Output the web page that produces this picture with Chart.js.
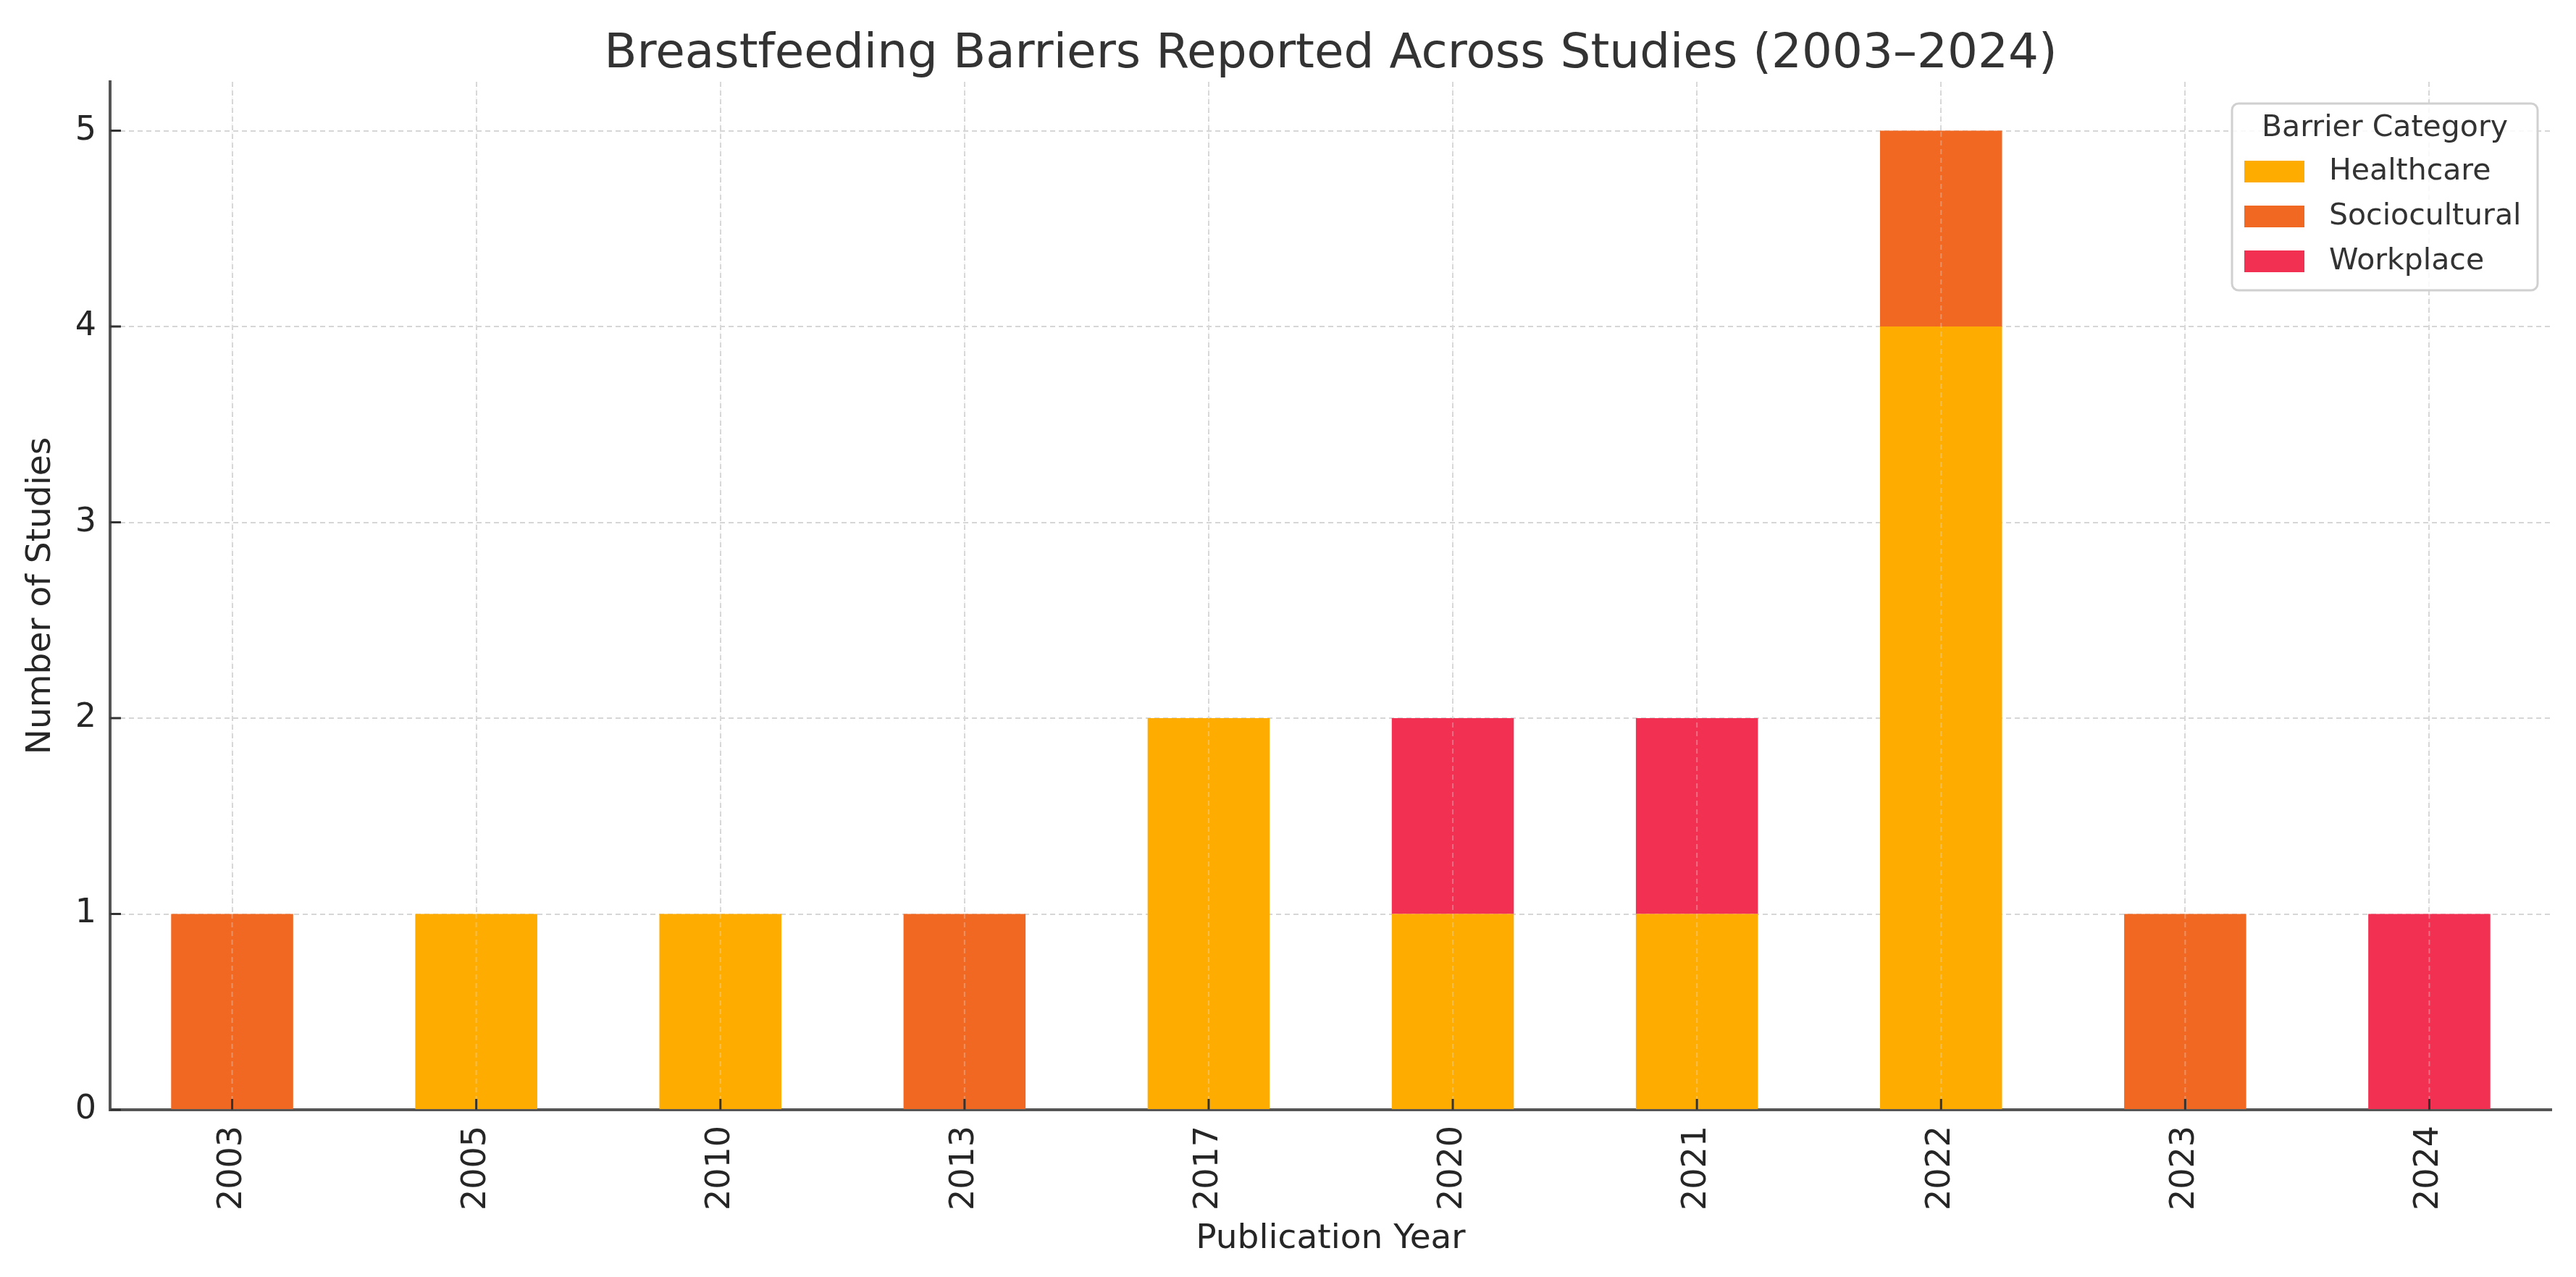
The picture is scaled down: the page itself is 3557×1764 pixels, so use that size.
<!DOCTYPE html>
<html>
<head>
<meta charset="utf-8">
<title>Breastfeeding Barriers Reported Across Studies</title>
<script src="https://cdn.jsdelivr.net/npm/chart.js@4.4.1/dist/chart.umd.min.js"></script>
<style>
  html, body { margin: 0; padding: 0; background: #fff; }
  canvas { display: block; }
</style>
</head>
<body>
<canvas id="barriersChart" width="3557" height="1764"></canvas>
<script>
// data
const years = ['2003', '2005', '2010', '2013', '2017', '2020', '2021', '2022', '2023', '2024'];
const healthcare    = [0, 1, 1, 0, 2, 1, 1, 4, 0, 0];
const sociocultural = [1, 0, 0, 1, 0, 0, 0, 1, 1, 0];
const workplace     = [0, 0, 0, 0, 0, 1, 1, 0, 0, 1];
const yMax = 5.25;

const FONT = "'DejaVu Sans', sans-serif";
const TEXT = '#262626';

// matplotlib-style ticks pointing into the plot, plus faint x grid over the bars
const innerTicks = {
  id: 'innerTicks',
  afterDatasetsDraw(chart) {
    const { ctx, chartArea, scales } = chart;
    ctx.save();
    ctx.strokeStyle = 'rgba(225,225,225,0.35)';
    ctx.lineWidth = 2;
    ctx.setLineDash([7, 5]);
    ctx.beginPath();
    scales.x.ticks.forEach((t, i) => {
      const x = scales.x.getPixelForTick(i);
      ctx.moveTo(x, chartArea.bottom);
      ctx.lineTo(x, chartArea.top);
    });
    ctx.stroke();

    ctx.setLineDash([]);
    ctx.strokeStyle = '#333';
    ctx.lineWidth = 3;
    ctx.beginPath();
    scales.x.ticks.forEach((t, i) => {
      const x = scales.x.getPixelForTick(i);
      ctx.moveTo(x, chartArea.bottom);
      ctx.lineTo(x, chartArea.bottom - 15);
    });
    scales.y.ticks.forEach((t, i) => {
      const y = scales.y.getPixelForTick(i);
      ctx.moveTo(chartArea.left, y);
      ctx.lineTo(chartArea.left + 15, y);
    });
    ctx.stroke();
    ctx.restore();
  }
};

// boxed legend with a title, inside the top right of the plot
const boxLegend = {
  id: 'boxLegend',
  afterDraw(chart) {
    const { ctx, chartArea } = chart;
    const w = 422, h = 258;
    const x0 = chartArea.right - 19 - w;
    const y0 = chartArea.top + 30;
    ctx.save();
    ctx.fillStyle = 'rgba(255,255,255,0.85)';
    ctx.strokeStyle = '#d0d0d0';
    ctx.lineWidth = 3;
    ctx.beginPath();
    ctx.roundRect(x0, y0, w, h, 9);
    ctx.fill();
    ctx.stroke();

    ctx.font = '41px ' + FONT;
    ctx.fillStyle = '#333';
    ctx.textBaseline = 'middle';
    ctx.textAlign = 'center';
    ctx.fillText('Barrier Category', x0 + w / 2, y0 + 34);

    ctx.textAlign = 'left';
    chart.data.datasets.forEach((ds, i) => {
      const cy = y0 + 94 + i * 62;
      ctx.fillStyle = ds.backgroundColor;
      ctx.fillRect(x0 + 17, cy - 15, 83, 30);
      ctx.fillStyle = '#333';
      ctx.fillText(ds.label, x0 + 134, cy);
    });
    ctx.restore();
  }
};

new Chart(document.getElementById('barriersChart'), {
  type: 'bar',
  data: {
    labels: years,
    datasets: [
      { label: 'Healthcare', data: healthcare, backgroundColor: '#FFAC00' },
      { label: 'Sociocultural', data: sociocultural, backgroundColor: '#F06822' },
      { label: 'Workplace', data: workplace, backgroundColor: '#F23152' }
    ]
  },
  options: {
    responsive: false,
    devicePixelRatio: 1,
    animation: false,
    layout: { padding: { left: 0, right: 34, top: 0, bottom: 0 } },
    datasets: {
      bar: { barPercentage: 0.5, categoryPercentage: 1.0, borderWidth: 0 }
    },
    plugins: {
      legend: { display: false },
      tooltip: { enabled: false },
      title: {
        display: true,
        fullSize: false,
        text: 'Breastfeeding Barriers Reported Across Studies (2003–2024)',
        color: '#333',
        font: { family: FONT, size: 66, weight: 'normal', lineHeight: 1.0 },
        padding: { top: 43, bottom: 4 }
      }
    },
    scales: {
      x: {
        stacked: true,
        offset: true,
        afterFit(scale) { scale.height = 231; },
        grid: { offset: false, color: '#d6d6d6', lineWidth: 2, drawTicks: false },
        border: { display: true, color: '#555', width: 4, dash: [7, 5] },
        ticks: {
          color: TEXT,
          font: { family: FONT, size: 46 },
          minRotation: 90,
          maxRotation: 90,
          padding: 22,
          autoSkip: false
        },
        title: {
          display: true,
          text: 'Publication Year',
          color: TEXT,
          font: { family: FONT, size: 47 },
          padding: { top: 0, bottom: 24 }
        }
      },
      y: {
        stacked: true,
        min: 0,
        max: yMax,
        afterFit(scale) { scale.width = 152; },
        afterBuildTicks(scale) {
          scale.ticks = scale.ticks.filter(t => Number.isInteger(t.value));
        },
        grid: { color: '#d6d6d6', lineWidth: 2, drawTicks: false },
        border: { display: true, color: '#555', width: 4, dash: [7, 5] },
        ticks: {
          stepSize: 1,
          color: TEXT,
          font: { family: FONT, size: 46 },
          padding: 19
        },
        title: {
          display: true,
          text: 'Number of Studies',
          color: TEXT,
          font: { family: FONT, size: 47 },
          padding: { top: 29, bottom: 0 }
        }
      }
    }
  },
  plugins: [innerTicks, boxLegend]
});
</script>
</body>
</html>
